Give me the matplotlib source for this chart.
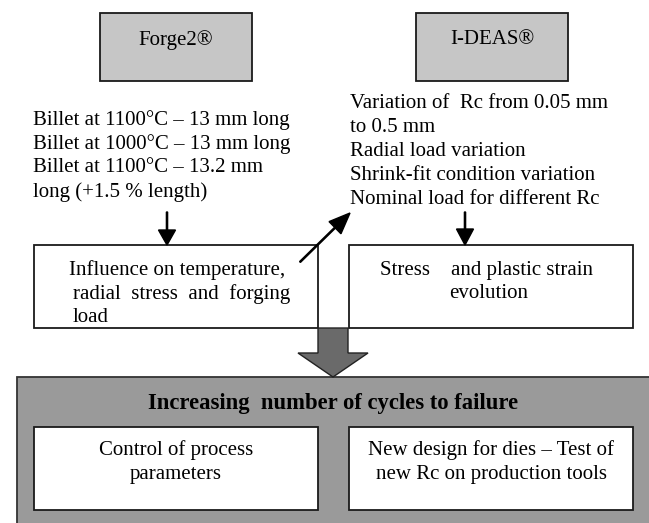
import matplotlib.pyplot as plt
from matplotlib.patches import Rectangle, Polygon, FancyArrow

plt.rcParams['font.family'] = ['Liberation Serif', 'DejaVu Serif']

# Diagram content
tool_names = ['Forge2®', 'I-DEAS®']
forge_lines = ['Billet at 1100°C – 13 mm long',
               'Billet at 1000°C – 13 mm long',
               'Billet at 1100°C – 13.2 mm',
               'long (+1.5 % length)']
ideas_lines = ['Variation of  Rc from 0.05 mm',
               'to 0.5 mm',
               'Radial load variation',
               'Shrink-fit condition variation',
               'Nominal load for different Rc']
influence_lines = ['Influence on temperature,',
                   'radial  stress  and  forging',
                   'load']
stress_lines = ['Stress    and plastic strain', 'evolution']
result_title = 'Increasing  number of cycles to failure'
result_boxes = [['Control of process', 'parameters'],
                ['New design for dies – Test of', 'new Rc on production tools']]

W, H = 649, 523
fig = plt.figure(figsize=(W / 100, H / 100), dpi=100)
ax = fig.add_axes([0, 0, 1, 1])
ax.set_xlim(0, W)
ax.set_ylim(H, 0)
ax.axis('off')

fs = 15
lw = 1.3
dy = 2  # text centre correction


def label(x, y, s, ha='left', **kw):
    ax.text(x, y + dy, s, ha=ha, va='center', fontsize=kw.pop('fontsize', fs), **kw)


# top tool boxes
for name, x0 in zip(tool_names, [100, 416]):
    ax.add_patch(Rectangle((x0, 13), 152, 68, facecolor='#c6c6c6', edgecolor='#1a1a1a', lw=lw))
    label(x0 + 76, 38, name, ha='center')

# input lists
for i, line in enumerate(forge_lines):
    label(33, 118 + i * 24, line)
for i, line in enumerate(ideas_lines):
    label(350, 102 + i * 24, line)

# middle boxes
ax.add_patch(Rectangle((34, 245), 284, 83, facecolor='white', edgecolor='#1a1a1a', lw=lw))
ax.add_patch(Rectangle((349, 245), 284, 83, facecolor='white', edgecolor='#1a1a1a', lw=lw))
label(69, 268, influence_lines[0])
label(73, 292, influence_lines[1])
label(73, 315, influence_lines[2])
label(487, 268, stress_lines[0], ha='center')
label(489, 292, stress_lines[1], ha='center')

# thin arrows
ax.add_patch(FancyArrow(167, 212, 0, 33, width=1.2, head_width=17, head_length=15,
                        length_includes_head=True, color='black'))
ax.add_patch(FancyArrow(465, 212, 0, 33, width=1.2, head_width=17, head_length=16,
                        length_includes_head=True, color='black'))
ax.add_patch(FancyArrow(300, 262, 50, -49, width=1.2, head_width=17, head_length=21,
                        length_includes_head=True, color='black'))

# result panel
ax.add_patch(Rectangle((17, 377), 650, 160, facecolor='#9a9a9a', edgecolor='#333333', lw=lw))
label(333, 402, result_title, ha='center', fontsize=16.3, fontweight='bold')
for (l1, l2), x0 in zip(result_boxes, [34, 349]):
    ax.add_patch(Rectangle((x0, 427), 284, 83, facecolor='white', edgecolor='#1a1a1a', lw=lw))
    label(x0 + 142, 448, l1, ha='center')
    label(x0 + 142, 472, l2, ha='center')

# big block arrow
block = [(318, 328), (348, 328), (348, 353), (368, 353), (333, 377),
         (298, 353), (318, 353)]
ax.add_patch(Polygon(block, closed=True, facecolor='#6a6a6a', edgecolor='#222222', lw=1))

fig.savefig('out.png', dpi=100)
